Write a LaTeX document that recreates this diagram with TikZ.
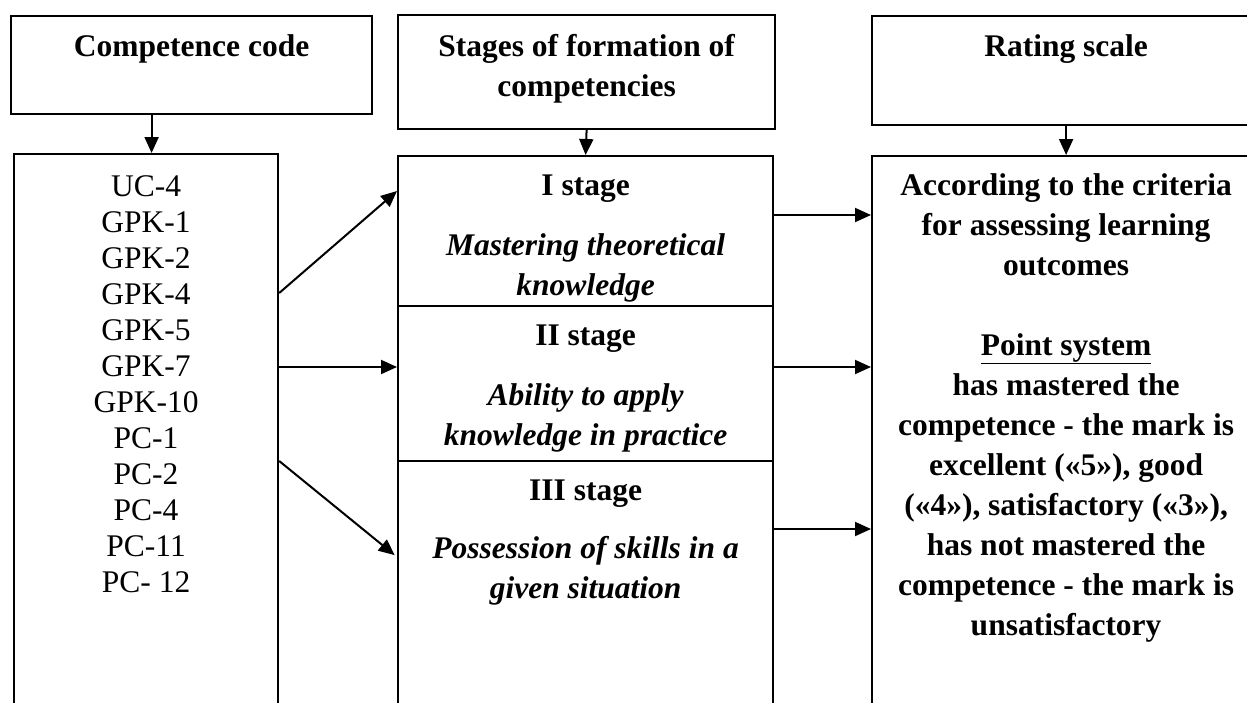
\documentclass[tikz,border=0pt]{standalone}
\usepackage{fontspec}
\setmainfont{Liberation Serif}
\usetikzlibrary{arrows.meta,positioning}
\tikzset{
  box/.style={draw,line width=2.2pt,inner sep=0pt,anchor=north west},
  heading/.style={font=\bfseries\fontsize{31.5}{40}\selectfont,align=center,
    inner sep=0pt},
  codelist/.style={font=\fontsize{31.5}{36}\selectfont,align=center,
    inner sep=0pt},
  arrow/.style={-{Triangle[length=16pt,width=14pt]},line width=2pt}
}

\begin{document}
\begin{tikzpicture}[x=1pt,y=-1pt]
  \useasboundingbox (0,0) rectangle (1247,702);
  \clip (0,0) rectangle (1247,702);
  % header row
  \node[box,minimum width=361pt,minimum height=98pt] (hcode) at (10,15) {};
  \node[box,minimum width=377pt,minimum height=114pt] (hstage) at (397,14) {};
  \node[box,minimum width=388pt,minimum height=109pt] (hrate) at (871,15) {};
  \node[heading,below=19pt of hcode.north] (tcode) {Competence code};
  \node[heading,below=20pt of hstage.north] (tstage) {Stages of formation of\\competencies};
  \node[heading,below=19pt of hrate.north] (trate) {Rating scale};
  % body row
  \node[box,minimum width=264pt,minimum height=600pt] (codes) at (13,153) {};
  \node[box,minimum width=375pt,minimum height=150pt] (st1) at (397,155) {};
  \node[box,minimum width=375pt,minimum height=155pt] (st2) at (397,305) {};
  \node[box,minimum width=375pt,minimum height=300pt] (st3) at (397,460) {};
  \node[box,minimum width=388pt,minimum height=600pt] (rate) at (871,155) {};
  \node[codelist,below=22pt of codes.north] (clist)
    {UC-4\\GPK-1\\GPK-2\\GPK-4\\GPK-5\\GPK-7\\GPK-10\\PC-1\\PC-2\\PC-4\\PC-11\\PC- 12};
  \node[heading,below=20pt of st1.north] (tst1)
    {I stage\\[20pt]\textit{Mastering theoretical}\\\textit{knowledge}};
  \node[heading,below=20pt of st2.north] (tst2)
    {II stage\\[20pt]\textit{Ability to apply}\\\textit{knowledge in practice}};
  \node[heading,below=20pt of st3.north] (tst3)
    {III stage\\[18pt]\textit{Possession of skills in a}\\\textit{given situation}};
  \node[heading,below=18pt of rate.north] (trt)
    {According to the criteria\\for assessing learning\\outcomes\\[40pt]
     \underline{Point system}\\has mastered the\\competence - the mark is\\
     excellent («5»), good\\(«4»), satisfactory («3»),\\has not mastered the\\
     competence - the mark is\\unsatisfactory};
  % down arrows
  \draw[arrow] ([xshift=-40pt]hcode.south) coordinate (d1) -- (d1 |- codes.north);
  \draw[arrow] (hstage.south) -- (st1.north);
  \draw[arrow] (hrate.south) -- (rate.north);
  % codes to stages
  \draw[arrow] ([yshift=-140pt]codes.north east) -- ([yshift=-36pt]st1.north west);
  \draw[arrow] ([yshift=-214pt]codes.north east) coordinate (c2) -- (c2 -| st2.west);
  \draw[arrow,shorten >=3pt] ([yshift=-308pt]codes.north east) -- ([yshift=-97pt]st3.north west);
  % stages to rating
  \draw[arrow] ([yshift=-60pt]st1.north east) coordinate (r1) -- (r1 -| rate.west);
  \draw[arrow] ([yshift=-62pt]st2.north east) coordinate (r2) -- (r2 -| rate.west);
  \draw[arrow] ([yshift=-69pt]st3.north east) coordinate (r3) -- (r3 -| rate.west);
\end{tikzpicture}
\end{document}
